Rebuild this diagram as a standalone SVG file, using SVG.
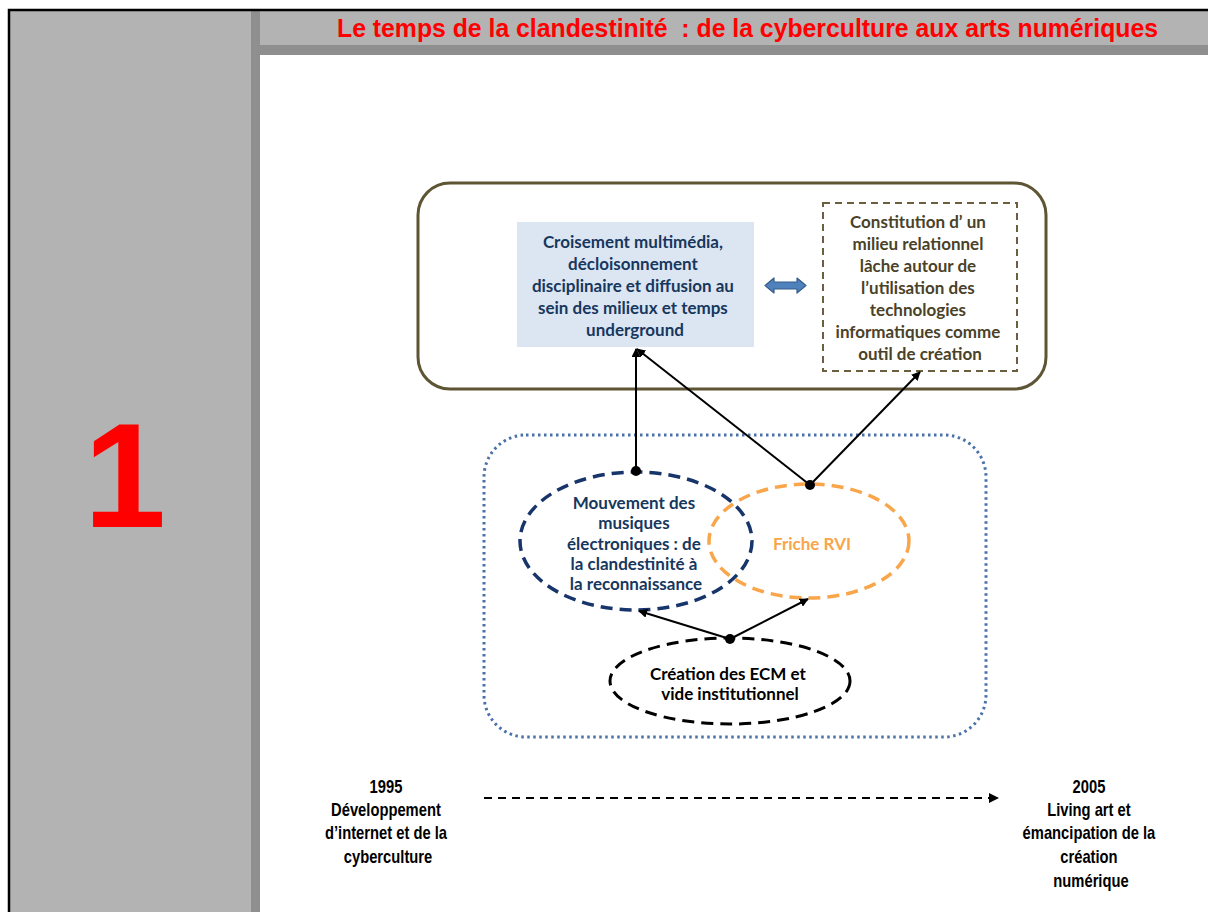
<svg xmlns="http://www.w3.org/2000/svg" width="1208" height="912" viewBox="0 0 1208 912">
  <defs>
    <marker id="arr" viewBox="0 0 10 10" refX="9" refY="5" markerWidth="9" markerHeight="9" markerUnits="userSpaceOnUse" orient="auto">
      <path d="M0,0 L10,5 L0,10 z" fill="#000"/>
    </marker>
    <marker id="arrS" viewBox="0 0 10 10" refX="9" refY="5" markerWidth="10" markerHeight="10" markerUnits="userSpaceOnUse" orient="auto">
      <path d="M0,0 L10,5 L0,10 z" fill="#000"/>
    </marker>
    <style>
      .node { font-family: Lato, "Open Sans", "Liberation Sans", sans-serif; font-weight: bold; font-size: 17px; text-anchor: middle; }
      .narrow { font-family: "Liberation Sans", Arial, sans-serif; font-weight: bold; font-size: 18px; text-anchor: middle; fill: #000; }
      .link { stroke: #000; stroke-width: 2; fill: none; }
      .dot { fill: #000; }
    </style>
  </defs>

  <!-- page frame -->
  <rect x="0" y="0" width="1208" height="912" fill="#fff"/>
  <rect x="9" y="10" width="1199" height="902" fill="#b3b3b3"/>
  <rect x="260" y="55" width="948" height="857" fill="#fff"/>
  <rect x="251" y="11" width="9" height="901" fill="#8f8f8f"/>
  <rect x="260" y="45" width="948" height="10" fill="#8f8f8f"/>
  <path d="M9,912 V10 H1208" fill="none" stroke="#000" stroke-width="2.5"/>

  <!-- slide number -->
  <text x="125" y="527" font-family="'Liberation Sans', Arial, sans-serif" font-weight="bold" font-size="148" fill="#ff0000" text-anchor="middle">1</text>

  <!-- title -->
  <text x="337" y="37" font-family="'Liberation Sans', Arial, sans-serif" font-weight="bold" font-size="26" fill="#ff0000" textLength="821" lengthAdjust="spacingAndGlyphs">Le temps de la clandestinité&#160; : de la cyberculture aux arts numériques</text>

  <!-- upper container -->
  <g id="sphere-top">
    <rect x="418" y="183" width="628" height="206" rx="32" fill="#fff" stroke="#5e5535" stroke-width="3"/>
  </g>

  <g id="croisement">
    <rect x="517" y="222" width="237" height="125" fill="#dce6f2"/>
    <text class="node" fill="#17375e">
      <tspan x="635" y="248">Croisement multimédia,</tspan>
      <tspan x="635" y="270">décloisonnement</tspan>
      <tspan x="635" y="292">disciplinaire et diffusion au</tspan>
      <tspan x="635" y="314">sein des milieux et temps</tspan>
      <tspan x="635" y="336">underground</tspan>
    </text>
  </g>

  <g id="double-arrow">
    <path d="M765,285.5 L774,278 L774,282 L797,282 L797,278 L806,285.5 L797,293 L797,289 L774,289 L774,293 Z" fill="#4f81bd" stroke="#385d8a" stroke-width="1.2" stroke-linejoin="round"/>
  </g>

  <g id="milieu-relationnel">
    <rect x="823" y="203" width="194" height="168" fill="#fff" stroke="#6b5f3f" stroke-width="2" stroke-dasharray="7,5"/>
    <text class="node" fill="#4a4228">
      <tspan x="920" y="228">Constitution d’ un</tspan>
      <tspan x="920" y="250">milieu relationnel</tspan>
      <tspan x="920" y="272">lâche autour de</tspan>
      <tspan x="920" y="294">l’utilisation des</tspan>
      <tspan x="920" y="316">technologies</tspan>
      <tspan x="920" y="338">informatiques comme</tspan>
      <tspan x="920" y="360">outil de création</tspan>
    </text>
  </g>

  <!-- lower container -->
  <g id="sphere-bottom">
    <rect x="484" y="435" width="502" height="302" rx="42" fill="none" stroke="#4a72a8" stroke-width="3" stroke-dasharray="2.5,3.5"/>
  </g>

  <g id="musiques">
    <ellipse cx="636" cy="541" rx="116" ry="69" fill="none" stroke="#17346b" stroke-width="3.5" stroke-dasharray="12,7"/>
    <text class="node" fill="#17375e">
      <tspan x="636" y="509">Mouvement des</tspan>
      <tspan x="636" y="529">musiques</tspan>
      <tspan x="636" y="550">électroniques : de</tspan>
      <tspan x="636" y="570">la clandestinité à</tspan>
      <tspan x="636" y="590">la reconnaissance</tspan>
    </text>
  </g>

  <g id="friche">
    <ellipse cx="809" cy="541" rx="100" ry="57" fill="none" stroke="#f9a54a" stroke-width="3.5" stroke-dasharray="12,7"/>
    <text class="node" fill="#f9a54a" x="812" y="550">Friche RVI</text>
  </g>

  <g id="ecm">
    <ellipse cx="730" cy="681" rx="120" ry="43" fill="none" stroke="#000" stroke-width="3" stroke-dasharray="12,7"/>
    <text class="node" fill="#000">
      <tspan x="730" y="680">Création des ECM et</tspan>
      <tspan x="730" y="700">vide institutionnel</tspan>
    </text>
  </g>

  <!-- connectors -->
  <g id="connectors">
    <line class="link" x1="636" y1="471" x2="636" y2="349" marker-end="url(#arr)"/>
    <line class="link" x1="810" y1="485" x2="637" y2="349" marker-end="url(#arr)"/>
    <line class="link" x1="810" y1="485" x2="920" y2="372" marker-end="url(#arr)"/>
    <line class="link" x1="730" y1="639" x2="639" y2="611" marker-end="url(#arr)"/>
    <line class="link" x1="730" y1="639" x2="808" y2="599" marker-end="url(#arr)"/>
    <circle class="dot" cx="636" cy="471" r="5"/>
    <circle class="dot" cx="810" cy="485" r="5"/>
    <circle class="dot" cx="730" cy="639" r="5"/>
    <line x1="484" y1="798" x2="998" y2="798" stroke="#000" stroke-width="2" stroke-dasharray="8,6" marker-end="url(#arrS)"/>
  </g>

  <!-- timeline labels -->
  <g id="start-1995" transform="translate(388,0) scale(0.82,1)">
    <text class="narrow">
      <tspan x="0" y="793">1995</tspan>
      <tspan x="0" y="816">Développement</tspan>
      <tspan x="0" y="839">d’internet et de la</tspan>
      <tspan x="0" y="863">cyberculture</tspan>
    </text>
  </g>
  <g id="end-2005" transform="translate(1091,0) scale(0.82,1)">
    <text class="narrow">
      <tspan x="0" y="793">2005</tspan>
      <tspan x="0" y="816">Living art et</tspan>
      <tspan x="0" y="839">émancipation de la</tspan>
      <tspan x="0" y="863">création</tspan>
      <tspan x="0" y="887">numérique</tspan>
    </text>
  </g>
</svg>
